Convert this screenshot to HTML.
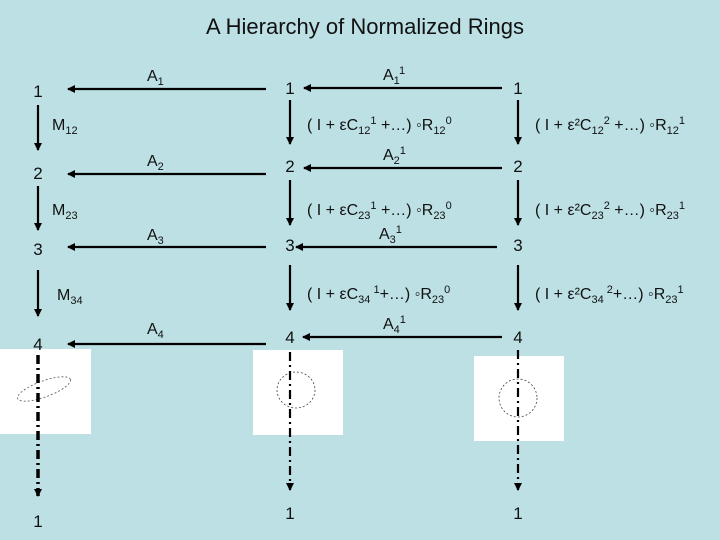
<!DOCTYPE html>
<html><head><meta charset="utf-8"><style>
html,body{margin:0;padding:0;background:#bce0e4;}
svg{display:block;}
text{font-family:"Liberation Sans",Arial,sans-serif;fill:#111;}
</style></head><body>
<svg width="720" height="540" viewBox="0 0 720 540" xmlns="http://www.w3.org/2000/svg">
<defs>
<marker id="ah" markerWidth="8" markerHeight="8" refX="7" refY="4" orient="auto" markerUnits="userSpaceOnUse">
<path d="M0,0 L8,4 L0,8 Z" fill="#000"/></marker>
</defs>
<rect width="720" height="540" fill="#bce0e4"/>
<text x="365" y="34" font-size="22" text-anchor="middle">A Hierarchy of Normalized Rings</text>

<g stroke="#000" stroke-width="2.2" fill="none" marker-end="url(#ah)">
<line x1="266" y1="89" x2="68" y2="89"/>
<line x1="266" y1="174" x2="68" y2="174"/>
<line x1="266" y1="247" x2="68" y2="247"/>
<line x1="266" y1="344" x2="68" y2="344"/>
<line x1="502" y1="88" x2="304" y2="88"/>
<line x1="502" y1="168" x2="304" y2="168"/>
<line x1="497" y1="247" x2="296" y2="247"/>
<line x1="502" y1="337" x2="303" y2="337"/>
<line x1="38" y1="105" x2="38" y2="150"/>
<line x1="38" y1="186" x2="38" y2="230"/>
<line x1="38" y1="270" x2="38" y2="316"/>
<line x1="290" y1="100" x2="290" y2="144"/>
<line x1="290" y1="180" x2="290" y2="225"/>
<line x1="290" y1="265" x2="290" y2="310"/>
<line x1="518" y1="100" x2="518" y2="144"/>
<line x1="518" y1="180" x2="518" y2="225"/>
<line x1="518" y1="265" x2="518" y2="310"/>
</g>

<rect x="0" y="349" width="91" height="85" fill="#fff"/>
<rect x="253" y="350" width="90" height="85" fill="#fff"/>
<rect x="474" y="356" width="90" height="85" fill="#fff"/>
<ellipse cx="44" cy="389" rx="28" ry="8" transform="rotate(-20 44 389)" fill="none" stroke="#555" stroke-width="0.8" stroke-dasharray="2,2"/>
<ellipse cx="296" cy="390" rx="19" ry="18" fill="none" stroke="#444" stroke-width="0.8" stroke-dasharray="2,2"/>
<ellipse cx="518" cy="398" rx="19" ry="19" fill="none" stroke="#444" stroke-width="0.8" stroke-dasharray="2,2"/>

<g stroke="#000" fill="none" marker-end="url(#ah)">
<line x1="38" y1="355" x2="38" y2="496" stroke-width="3.5" stroke-dasharray="9,4,2,4"/>
<line x1="290" y1="352" x2="290" y2="490" stroke-width="2.2" stroke-dasharray="9,4,2,4"/>
<line x1="518" y1="350" x2="518" y2="490" stroke-width="2.2" stroke-dasharray="9,4,2,4"/>
</g>

<g font-size="17" text-anchor="middle">
<text x="38" y="97">1</text>
<text x="38" y="179">2</text>
<text x="38" y="255">3</text>
<text x="38" y="350">4</text>
<text x="38" y="527">1</text>
<text x="290" y="94">1</text>
<text x="290" y="172">2</text>
<text x="290" y="251">3</text>
<text x="290" y="343">4</text>
<text x="290" y="519">1</text>
<text x="518" y="94">1</text>
<text x="518" y="172">2</text>
<text x="518" y="251">3</text>
<text x="518" y="343">4</text>
<text x="518" y="519">1</text>
</g>

<g font-size="16">
<text x="147" y="81">A<tspan font-size="11" dy="4">1</tspan></text>
<text x="147" y="166">A<tspan font-size="11" dy="4">2</tspan></text>
<text x="147" y="240">A<tspan font-size="11" dy="4">3</tspan></text>
<text x="147" y="334">A<tspan font-size="11" dy="4">4</tspan></text>
<text x="52" y="130">M<tspan font-size="11" dy="4">12</tspan></text>
<text x="52" y="215">M<tspan font-size="11" dy="4">23</tspan></text>
<text x="57" y="300">M<tspan font-size="11" dy="4">34</tspan></text>

<text x="383" y="80">A<tspan font-size="11" dy="4">1</tspan><tspan font-size="11" dy="-10">1</tspan></text>
<text x="383" y="160">A<tspan font-size="11" dy="4">2</tspan><tspan font-size="11" dy="-10">1</tspan></text>
<text x="379" y="239">A<tspan font-size="11" dy="4">3</tspan><tspan font-size="11" dy="-10">1</tspan></text>
<text x="383" y="329">A<tspan font-size="11" dy="4">4</tspan><tspan font-size="11" dy="-10">1</tspan></text>

<text x="307" y="130">( I + εC<tspan font-size="11" dy="4">12</tspan><tspan font-size="11" dy="-10">1</tspan><tspan dy="6"> +…) ◦R</tspan><tspan font-size="11" dy="4">12</tspan><tspan font-size="11" dy="-10">0</tspan></text>
<text x="307" y="215">( I + εC<tspan font-size="11" dy="4">23</tspan><tspan font-size="11" dy="-10">1</tspan><tspan dy="6"> +…) ◦R</tspan><tspan font-size="11" dy="4">23</tspan><tspan font-size="11" dy="-10">0</tspan></text>
<text x="307" y="299">( I + εC<tspan font-size="11" dy="4">34</tspan><tspan font-size="11" dy="-10"> 1</tspan><tspan dy="6">+…) ◦R</tspan><tspan font-size="11" dy="4">23</tspan><tspan font-size="11" dy="-10">0</tspan></text>

<text x="535" y="130">( I + ε²C<tspan font-size="11" dy="4">12</tspan><tspan font-size="11" dy="-10">2</tspan><tspan dy="6"> +…) ◦R</tspan><tspan font-size="11" dy="4">12</tspan><tspan font-size="11" dy="-10">1</tspan></text>
<text x="535" y="215">( I + ε²C<tspan font-size="11" dy="4">23</tspan><tspan font-size="11" dy="-10">2</tspan><tspan dy="6"> +…) ◦R</tspan><tspan font-size="11" dy="4">23</tspan><tspan font-size="11" dy="-10">1</tspan></text>
<text x="535" y="299">( I + ε²C<tspan font-size="11" dy="4">34</tspan><tspan font-size="11" dy="-10"> 2</tspan><tspan dy="6">+…) ◦R</tspan><tspan font-size="11" dy="4">23</tspan><tspan font-size="11" dy="-10">1</tspan></text>
</g>
</svg>
</body></html>
